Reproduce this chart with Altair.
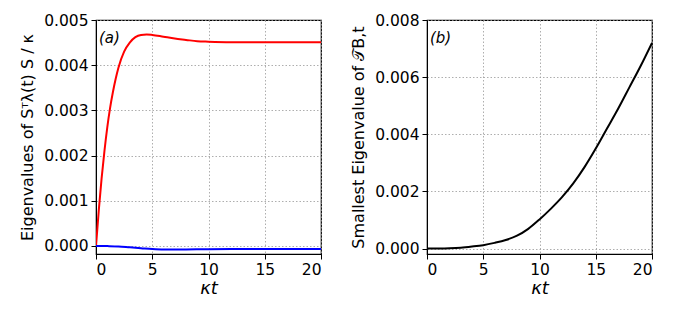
import altair as alt
import pandas as pd

# Panel (a): eigenvalues
t_red = [0, 0.25, 0.5, 0.75, 1, 1.25, 1.5, 1.75, 2, 2.5, 3, 3.5, 4, 4.5, 5, 6, 7, 8, 9, 10, 12, 15, 20]
v_red = [0, 0.0008, 0.0015, 0.0021, 0.00262, 0.00305, 0.0034, 0.0037, 0.00395, 0.0043, 0.0045,
         0.00462, 0.00467, 0.00468, 0.00467, 0.00463, 0.00459, 0.00456, 0.00453, 0.00452,
         0.00451, 0.00451, 0.00451]
t_blue = [0, 1, 2, 3, 4, 5, 6, 7, 8, 10, 12, 15, 20]
v_blue = [0, -0.000003, -0.00001, -0.00003, -0.00005, -0.00007, -0.00008, -0.00008, -0.000078,
          -0.000072, -0.00007, -0.00007, -0.00007]

# Panel (b): smallest eigenvalue
t_black = [0, 1, 2, 3, 4, 5, 6, 7, 8, 9, 10, 11, 12, 13, 14, 15, 16, 17, 18, 19, 20]
v_black = [0, 0.000002, 0.00001, 0.00003, 0.00007, 0.00012, 0.0002, 0.0003, 0.00045, 0.00069,
           0.00102, 0.00139, 0.0018, 0.00228, 0.00285, 0.0035, 0.0042, 0.0049, 0.00565, 0.0064, 0.0072]

x_ticks = [0, 5, 10, 15, 20]
ya_ticks = [0, 0.001, 0.002, 0.003, 0.004, 0.005]
yb_ticks = [0, 0.002, 0.004, 0.006, 0.008]

FONT = "DejaVu Sans"
LBL = 15.5
TTL = 16

df_a = pd.concat([
    pd.DataFrame({"t": t_red, "v": v_red, "s": "red"}),
    pd.DataFrame({"t": t_blue, "v": v_blue, "s": "blue"}),
])
df_b = pd.DataFrame({"t": t_black, "v": v_black})

def xaxis():
    return alt.X("t:Q", scale=alt.Scale(domain=[0, 20], nice=False, zero=False),
                 axis=alt.Axis(values=x_ticks, title="κt", titleFontStyle="italic",
                               titleFontSize=18, format="d", labelFontSize=LBL, labelFont=FONT,
                               titleFont=FONT, titlePadding=2))

def yaxis(ticks, title):
    return alt.Axis(values=ticks, format=".3f", title=title, labelFontSize=LBL, labelFont=FONT,
                    titleFontSize=TTL, titleFont=FONT, titlePadding=8)

W, H = 225, 234

line_a = alt.Chart(df_a).mark_line(strokeWidth=2, interpolate="monotone", clip=True).encode(
    x=xaxis(),
    y=alt.Y("v:Q", scale=alt.Scale(domain=[-0.000178, 0.005], nice=False, zero=False),
            axis=yaxis(ya_ticks, "Eigenvalues of Sᵀλ(t) S / κ")),
    color=alt.Color("s:N", scale=alt.Scale(domain=["red", "blue"], range=["#ff0000", "#0000ff"]), legend=None),
    detail="s:N",
)
lab_a = alt.Chart(pd.DataFrame({"l": ["(a)"]})).mark_text(
    align="left", baseline="middle", fontSize=15, fontStyle="italic", font=FONT
).encode(text="l:N", x=alt.value(3), y=alt.value(18))
panel_a = alt.layer(line_a, lab_a).properties(width=W, height=H)

line_b = alt.Chart(df_b).mark_line(strokeWidth=2, color="black", interpolate="monotone", clip=True).encode(
    x=xaxis(),
    y=alt.Y("v:Q", scale=alt.Scale(domain=[-0.00019, 0.008], nice=False, zero=False),
            axis=yaxis(yb_ticks, "Smallest Eigenvalue of 𝒯B,t")),
)
lab_b = alt.Chart(pd.DataFrame({"l": ["(b)"]})).mark_text(
    align="left", baseline="middle", fontSize=15, fontStyle="italic", font=FONT
).encode(text="l:N", x=alt.value(3), y=alt.value(18))
panel_b = alt.layer(line_b, lab_b).properties(width=W, height=H)

chart = alt.hconcat(panel_a, panel_b, spacing=27).properties(
    padding={"left": 11, "top": 4, "right": 5, "bottom": 5}
).configure_view(stroke="black", strokeWidth=1.2).configure_axis(
    labelColor="black", titleColor="black", titleFontWeight="normal",
    domainColor="black", tickColor="black", tickSize=5, tickWidth=1,
    gridColor="#999999", gridDash=[1.5, 2], gridWidth=0.8,
    labelPadding=3,
)

chart.save("out.html", embed_options={"renderer": "svg", "actions": False})
